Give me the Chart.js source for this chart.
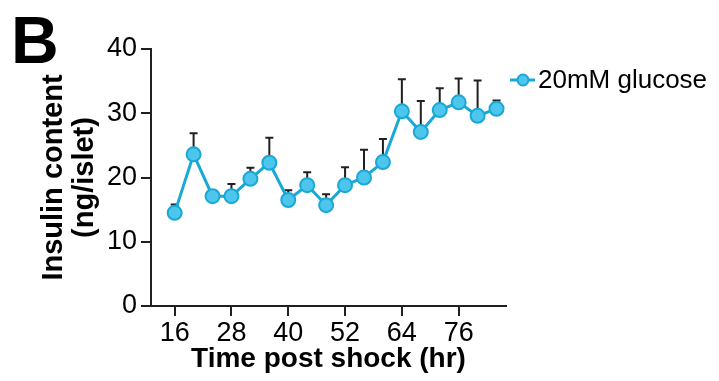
<!DOCTYPE html>
<html>
<head>
<meta charset="utf-8">
<script src="https://cdn.jsdelivr.net/npm/chart.js@4.4.1/dist/chart.umd.min.js"></script>
<style>
  html, body { margin: 0; padding: 0; background: #fff; }
</style>
</head>
<body>
<canvas id="chart" width="719" height="381"></canvas>
<script>
// values (mean and upper SEM)
var hours = [16, 20, 24, 28, 32, 36, 40, 44, 48, 52, 56, 60, 64, 68, 72, 76, 80, 84];
var insulin = [14.5, 23.6, 17.1, 17.1, 19.8, 22.3, 16.5, 18.8, 15.7, 18.8, 20.0, 22.4, 30.3, 27.1, 30.5, 31.7, 29.6, 30.7];
var insulinSem = [1.3, 3.3, 0.4, 1.9, 1.7, 3.9, 1.5, 2.0, 1.7, 2.8, 4.3, 3.6, 5.0, 4.8, 3.4, 3.7, 5.5, 1.3];
var xTicks = [16, 28, 40, 52, 64, 76];
var seriesLabel = '20mM glucose';

var FONT = '"Liberation Sans", Arial, Helvetica, sans-serif';
var INK = '#231f20';
var LINE = '#1aa8d4';
var FILL = '#4cc6ec';

var errorBars = {
    id: 'errorBars',
    beforeDatasetsDraw: function (chart) {
        var ctx = chart.ctx;
        var xs = chart.scales.x;
        var ys = chart.scales.y;
        ctx.save();
        ctx.strokeStyle = INK;
        ctx.lineWidth = 2;
        for (var i = 0; i < hours.length; i++) {
            var x = xs.getPixelForValue(hours[i]);
            var y0 = ys.getPixelForValue(insulin[i]);
            var y1 = ys.getPixelForValue(insulin[i] + insulinSem[i]);
            ctx.beginPath();
            ctx.moveTo(x, y0);
            ctx.lineTo(x, y1);
            ctx.moveTo(x - 4, y1);
            ctx.lineTo(x + 4, y1);
            ctx.stroke();
        }
        ctx.restore();
    }
};

// panel letter and a prism-style legend (line through marker)
var extras = {
    id: 'extras',
    afterDraw: function (chart) {
        var ctx = chart.ctx;
        ctx.save();
        ctx.fillStyle = '#000';
        ctx.font = 'bold 66px ' + FONT;
        ctx.textBaseline = 'alphabetic';
        ctx.textAlign = 'left';
        ctx.fillText('B', 11, 63);

        var ly = 80;
        ctx.strokeStyle = LINE;
        ctx.lineWidth = 3;
        ctx.beginPath();
        ctx.moveTo(510, ly);
        ctx.lineTo(535, ly);
        ctx.stroke();
        ctx.beginPath();
        ctx.arc(523, ly, 5.5, 0, Math.PI * 2);
        ctx.fillStyle = FILL;
        ctx.fill();
        ctx.lineWidth = 2;
        ctx.stroke();

        ctx.fillStyle = '#000';
        ctx.font = '26px ' + FONT;
        ctx.textBaseline = 'middle';
        ctx.fillText(seriesLabel, 538, ly + 1);
        ctx.restore();
    }
};

var points = [];
for (var i = 0; i < hours.length; i++) {
    points.push({ x: hours[i], y: insulin[i] });
}

new Chart(document.getElementById('chart'), {
    type: 'line',
    data: {
        datasets: [{
            label: seriesLabel,
            data: points,
            borderColor: LINE,
            borderWidth: 3,
            backgroundColor: FILL,
            pointBackgroundColor: FILL,
            pointBorderColor: LINE,
            pointBorderWidth: 2,
            pointRadius: 7,
            tension: 0,
            fill: false,
            clip: false
        }]
    },
    options: {
        responsive: false,
        animation: false,
        devicePixelRatio: 1,
        layout: { padding: { top: 49, right: 213, bottom: 0, left: 0 } },
        plugins: {
            legend: { display: false },
            tooltip: { enabled: false }
        },
        scales: {
            x: {
                type: 'linear',
                min: 11,
                max: 86,
                border: { color: INK, width: 2 },
                grid: { drawOnChartArea: false, tickLength: 10, color: INK, lineWidth: 2 },
                afterBuildTicks: function (scale) {
                    scale.ticks = xTicks.map(function (v) { return { value: v }; });
                },
                ticks: {
                    color: '#000',
                    font: { family: FONT, size: 27 },
                    padding: 1,
                    maxRotation: 0,
                    autoSkip: false
                },
                title: {
                    display: true,
                    text: 'Time post shock (hr)',
                    color: '#000',
                    font: { family: FONT, size: 28, weight: 'bold', lineHeight: 1.1 },
                    padding: { top: 0, bottom: 6 }
                },
                afterFit: function (scale) { scale.height = 75; }
            },
            y: {
                min: 0,
                max: 40,
                border: { color: INK, width: 2 },
                grid: { drawOnChartArea: false, tickLength: 10, color: INK, lineWidth: 2 },
                ticks: {
                    stepSize: 10,
                    color: '#000',
                    font: { family: FONT, size: 27 },
                    padding: 4
                },
                title: {
                    display: true,
                    text: ['Insulin content', '(ng/islet)'],
                    color: '#000',
                    font: { family: FONT, size: 29, weight: 'bold', lineHeight: 1.07 },
                    padding: { top: 38, bottom: 0 }
                },
                afterFit: function (scale) { scale.width = 151; }
            }
        }
    },
    plugins: [errorBars, extras]
});
</script>
</body>
</html>
